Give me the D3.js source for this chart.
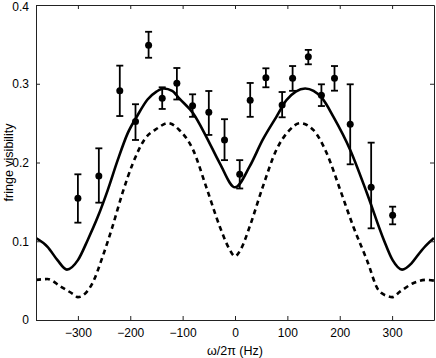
<!DOCTYPE html>
<html>
<head>
<meta charset="utf-8">
<script src="https://cdn.jsdelivr.net/npm/d3@7"></script>
<style>
  body { margin: 0; background: #fff; }
  text { font-family: "Liberation Sans", Arial, sans-serif; }
</style>
</head>
<body>
<div id="chart"></div>
<script>
// measured points with error bars
var pointX = [-300, -260, -220, -190, -165, -139, -111, -81, -50, -20, 9, 29, 59, 90, 110, 140, 165, 190, 220, 260, 301];
var pointY = [0.1545, 0.183, 0.291, 0.252, 0.349, 0.2815, 0.3006, 0.272, 0.2637, 0.2286, 0.185, 0.279, 0.3077, 0.273, 0.307, 0.3344, 0.2853, 0.307, 0.2485, 0.1685, 0.133];
var errHigh = [0.185, 0.218, 0.323, 0.274, 0.366, 0.2955, 0.320, 0.2866, 0.2908, 0.255, 0.203, 0.301, 0.3196, 0.2895, 0.3225, 0.343, 0.2993, 0.3225, 0.2993, 0.2252, 0.1439];
var errLow = [0.1236, 0.149, 0.259, 0.2286, 0.333, 0.268, 0.280, 0.258, 0.235, 0.203, 0.167, 0.258, 0.2955, 0.2574, 0.291, 0.3247, 0.2717, 0.2912, 0.1977, 0.1164, 0.1215];

// solid theory curve
var solidX = [-380, -358, -339, -321, -300, -281, -262, -243, -224, -205, -186, -167, -150, -136, -120, -106, -80, -55, -29, 0, 28, 53, 79, 98, 116, 134, 150, 166, 188, 220, 252, 284, 301, 319, 337, 350, 364, 380];
var solidY = [0.104, 0.093, 0.076, 0.064, 0.076, 0.102, 0.131, 0.165, 0.203, 0.237, 0.260, 0.280, 0.290, 0.294, 0.291, 0.281, 0.2625, 0.233, 0.199, 0.1685, 0.195, 0.229, 0.258, 0.279, 0.290, 0.294, 0.291, 0.282, 0.258, 0.216, 0.161, 0.102, 0.076, 0.064, 0.072, 0.083, 0.094, 0.104];

// dashed theory curve
var dashX = [-380, -358, -332, -307, -300, -291, -272, -253, -234, -215, -195, -173, -148, -128, -106, -80, -55, -29, -13, 0, 12, 28, 53, 79, 104, 124, 150, 175, 201, 226, 252, 274, 293, 300, 315, 341, 366, 380];
var dashY = [0.051, 0.052, 0.042, 0.032, 0.029, 0.031, 0.047, 0.080, 0.1185, 0.161, 0.199, 0.229, 0.2435, 0.250, 0.241, 0.216, 0.169, 0.1185, 0.093, 0.081, 0.091, 0.1185, 0.169, 0.216, 0.241, 0.250, 0.241, 0.212, 0.165, 0.1185, 0.076, 0.038, 0.030, 0.029, 0.036, 0.047, 0.051, 0.050];

var xTicks = [-300, -200, -100, 0, 100, 200, 300];
var yTicks = [0, 0.1, 0.2, 0.3, 0.4];

var W = 436, H = 358;
var plotL = 36, plotR = 434, plotT = 5, plotB = 320;

var svg = d3.select("#chart").append("svg")
  .attr("width", W)
  .attr("height", H);

var x = d3.scaleLinear().domain([-380, 380]).range([plotL, plotR]);
var y = d3.scaleLinear().domain([0, 0.4]).range([plotB, plotT]);

var line = d3.line()
  .x(function(d){ return x(d[0]); })
  .y(function(d){ return y(d[1]); })
  .curve(d3.curveMonotoneX);

svg.append("clipPath").attr("id", "clip")
  .append("rect").attr("x", plotL).attr("y", plotT)
  .attr("width", plotR - plotL).attr("height", plotB - plotT);

var solid = solidX.map(function(v, i){ return [v, solidY[i]]; });
var dashed = dashX.map(function(v, i){ return [v, dashY[i]]; });

svg.append("path")
  .attr("clip-path", "url(#clip)")
  .attr("d", line(dashed))
  .attr("fill", "none")
  .attr("stroke", "#000")
  .attr("stroke-width", 2.6)
  .attr("stroke-dasharray", "5,4");

svg.append("path")
  .attr("clip-path", "url(#clip)")
  .attr("d", line(solid))
  .attr("fill", "none")
  .attr("stroke", "#000")
  .attr("stroke-width", 2.6);

// error bars
var pts = pointX.map(function(v, i){
  return {x: v, y: pointY[i], lo: errLow[i], hi: errHigh[i]};
});
var eb = svg.append("g").selectAll("g").data(pts).enter().append("g");
eb.append("line")
  .attr("x1", d => x(d.x)).attr("x2", d => x(d.x))
  .attr("y1", d => y(d.lo)).attr("y2", d => y(d.hi))
  .attr("stroke", "#000").attr("stroke-width", 1.8);
eb.append("line")
  .attr("x1", d => x(d.x) - 3.5).attr("x2", d => x(d.x) + 3.5)
  .attr("y1", d => y(d.hi)).attr("y2", d => y(d.hi))
  .attr("stroke", "#000").attr("stroke-width", 1.8);
eb.append("line")
  .attr("x1", d => x(d.x) - 3.5).attr("x2", d => x(d.x) + 3.5)
  .attr("y1", d => y(d.lo)).attr("y2", d => y(d.lo))
  .attr("stroke", "#000").attr("stroke-width", 1.8);
eb.append("circle")
  .attr("cx", d => x(d.x)).attr("cy", d => y(d.y))
  .attr("r", 3.5).attr("fill", "#000");

// axes, ticks pointing inward (matlab style)
var xb = svg.append("g").attr("transform", "translate(0," + plotB + ")")
  .call(d3.axisBottom(x).tickValues(xTicks).tickSize(-4).tickSizeOuter(0).tickPadding(8));
var xt = svg.append("g").attr("transform", "translate(0," + plotT + ")")
  .call(d3.axisTop(x).tickValues(xTicks).tickSize(-4).tickSizeOuter(0).tickFormat(""));
var yl = svg.append("g").attr("transform", "translate(" + plotL + ",0)")
  .call(d3.axisLeft(y).tickValues(yTicks).tickSize(-4).tickSizeOuter(0).tickPadding(7)
    .tickFormat(function(d){ return d === 0 ? "0" : d3.format(".1f")(d); }));
var yr = svg.append("g").attr("transform", "translate(" + plotR + ",0)")
  .call(d3.axisRight(y).tickValues(yTicks).tickSize(-4).tickSizeOuter(0).tickFormat(""));

[xb, xt, yl, yr].forEach(function(g){
  g.selectAll("path").attr("stroke", "#222");
  g.selectAll("line").attr("stroke", "#222");
  g.selectAll("text").attr("font-size", 12).attr("fill", "#000")
    .attr("font-family", "'Liberation Sans', Arial, sans-serif");
});
// keep the top label inside the picture
yl.selectAll(".tick text").filter(d => d === 0.4).attr("dy", "0.42em");

svg.append("text")
  .attr("x", x(0)).attr("y", 355)
  .attr("text-anchor", "middle")
  .attr("font-size", 12.5)
  .text("ω/2π (Hz)");

svg.append("text")
  .attr("transform", "translate(13," + ((plotT + plotB) / 2) + ") rotate(-90)")
  .attr("text-anchor", "middle")
  .attr("font-size", 12.5)
  .text("fringe visibility");
</script>
</body>
</html>
